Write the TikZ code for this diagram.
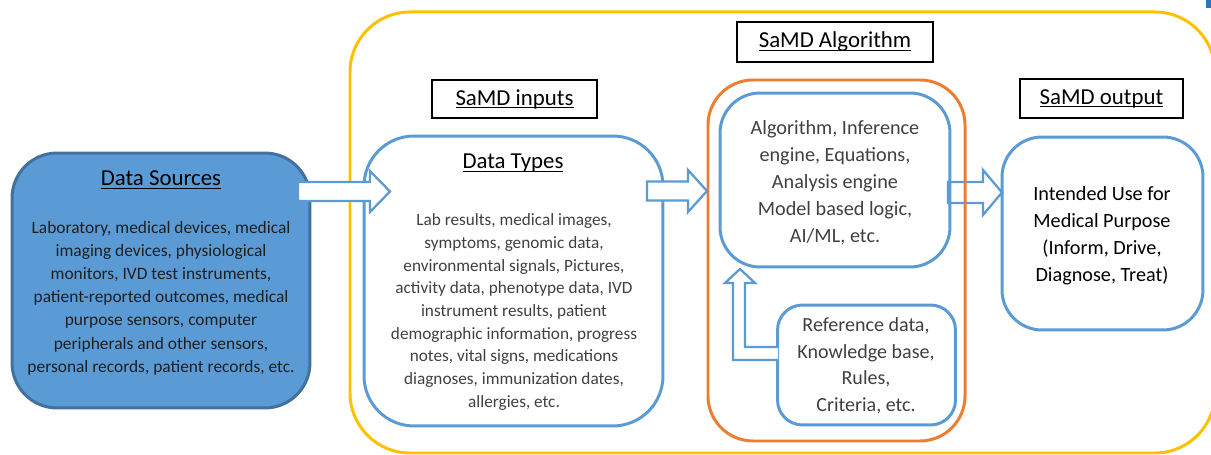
\documentclass[tikz,border=0pt]{standalone}
\usepackage{fontspec}
\setmainfont{Carlito}
\usetikzlibrary{positioning}

\definecolor{samdblue}{HTML}{5B9BD5}
\definecolor{dsedge}{HTML}{41719C}
\definecolor{samdyellow}{HTML}{FFC000}
\definecolor{samdorange}{HTML}{ED7D31}
\definecolor{textgray}{HTML}{404040}
\definecolor{cornerblue}{HTML}{2E75B6}

% underline just under the baseline
\newcommand{\headul}[1]{\leavevmode\setbox0\hbox{#1}\rlap{\rule[-1.9pt]{\wd0}{0.65pt}}\box0}

\begin{document}
\begin{tikzpicture}[
  x=0.02cm, y=-0.02cm,
  roundbox/.style={draw=samdblue, line width=1.7pt, rounded corners=#1, inner sep=0pt},
  headbox/.style={draw=black, line width=1.4pt, inner sep=0pt, font=\fontsize{13}{15}\selectfont},
  headtext/.style={inner sep=0pt, font=\fontsize{13}{15}\selectfont},
  bodytext/.style={align=center, inner sep=0pt, text=textgray},
  hollow/.style={draw=samdblue, line width=1.3pt, fill=white, line join=miter}]

  \useasboundingbox (0,0) rectangle (1211,455);
  \clip (0,0) rectangle (1211,455);

  % outer yellow frame and the small corner mark
  \draw[samdyellow, line width=1.7pt, rounded corners=1.2cm] (350,12) rectangle (1215,453);
  \fill[cornerblue] (1206,0) rectangle (1211,8);

  % section headings
  \node[headbox, minimum width=3.92cm, minimum height=0.8cm] (algohead) at (835,42) {\headul{SaMD Algorithm}};
  \node[headbox, minimum width=3.3cm, minimum height=0.76cm] (inhead) at (514.5,99) {\headul{SaMD inputs}};
  \node[headbox, minimum width=3.26cm, minimum height=0.78cm] (outhead) at (1101.5,98.5) {\headul{SaMD output}};

  % boxes
  \node[roundbox=0.9cm, draw=dsedge, fill=samdblue, minimum width=5.96cm, minimum height=5.1cm] (ds) at (161,280.5) {};
  \node[roundbox=1cm, minimum width=5.98cm, minimum height=5.8cm] (dt) at (513.5,281) {};

  % arrow into the output box, under the orange frame
  \draw[hollow] (948,182) -- ++(35,0) -- ++(0,-12) -- ++(19,22.5) -- ++(-19,22.5) -- ++(0,-12) -- ++(-35,0) -- cycle;

  \draw[samdorange, line width=1.7pt, rounded corners=0.9cm] (708,80) rectangle (965,441);
  \node[roundbox=0.8cm, minimum width=4.6cm, minimum height=3.48cm] (alg) at (835,180) {};
  \node[roundbox=0.5cm, minimum width=3.56cm, minimum height=2.4cm] (ref) at (866.5,365) {};
  \node[roundbox=0.8cm, minimum width=4.02cm, minimum height=3.86cm] (out) at (1102.5,233.5) {};

  % block arrows
  \coordinate (dsout) at (298,191.5);
  \coordinate (dtout) at (647,191);
  \coordinate (refout) at (778,347);
  \draw[hollow] (dsout) ++(0,-9.5) -- ++(72,0) -- ++(0,-11) -- ++(20,20.5) -- ++(-20,20.5) -- ++(0,-11) -- ++(-72,0) -- cycle;
  \draw[hollow] (dtout) ++(0,-9.5) -- ++(41,0) -- ++(0,-11.5) -- ++(19,21) -- ++(-19,21) -- ++(0,-11.5) -- ++(-41,0) -- cycle;
  \draw[hollow] (refout) -- (745,347) -- (745,283) -- (755,283) -- (740,269) -- (725,283) -- (733,283) -- (733,360) -- ++(45,0);

  % texts
  \node[headtext] (dstitle) at (161,180) {\headul{Data Sources}};
  \node[bodytext, text=black!88, font=\fontsize{9.9}{13.2}\selectfont] (dsbody) at (161,298) {Laboratory, medical devices, medical\\imaging devices, physiological\\monitors, IVD test instruments,\\patient-reported outcomes, medical\\purpose sensors, computer\\peripherals and other sensors,\\personal records, patient records, etc.};

  \node[headtext] (dttitle) at (513,163) {\headul{Data Types}};
  \node[bodytext, font=\fontsize{9.8}{12.9}\selectfont] (dtbody) at (514,312) {Lab results, medical images,\\symptoms, genomic data,\\environmental signals, Pictures,\\activity data, phenotype data, IVD\\instrument results, patient\\demographic information, progress\\notes, vital signs, medications\\diagnoses, immunization dates,\\allergies, etc.};

  \node[bodytext, font=\fontsize{11.5}{15.3}\selectfont] (algtext) at (835,183) {Algorithm, Inference\\engine, Equations,\\Analysis engine\\Model based logic,\\AI/ML, etc.};
  \node[bodytext, font=\fontsize{11.4}{15.1}\selectfont] (reftext) at (866,366) {Reference data,\\Knowledge base,\\Rules,\\Criteria, etc.};
  \node[bodytext, text=black, font=\fontsize{11.5}{15.3}\selectfont] (outtext) at (1102,236) {Intended Use for\\Medical Purpose\\(Inform, Drive,\\Diagnose, Treat)};
\end{tikzpicture}
\end{document}
